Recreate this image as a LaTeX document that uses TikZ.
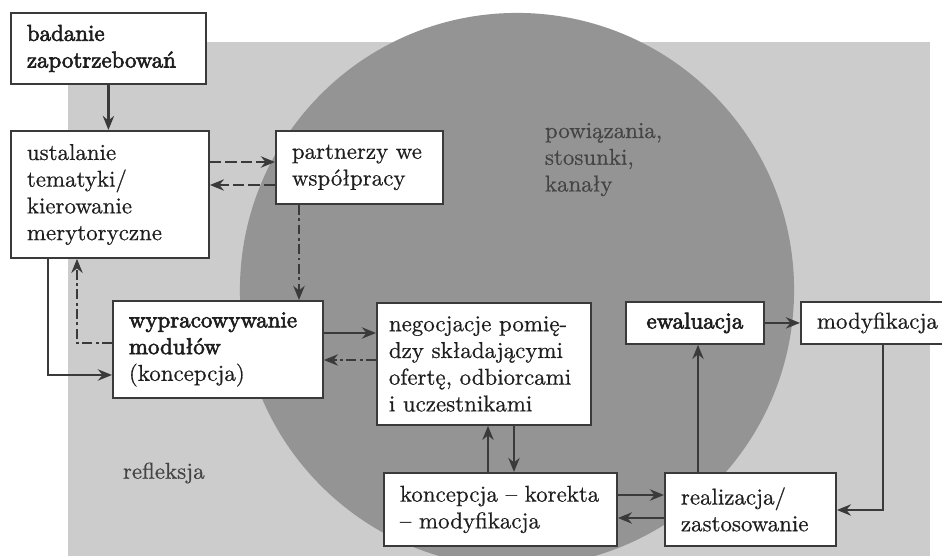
\documentclass[tikz,border=0pt]{standalone}
\usepackage{fontspec}
\setmainfont{lmroman10-regular.otf}[UprightFeatures={FakeBold=0.6}, BoldFont=lmroman10-regular.otf, BoldFeatures={FakeBold=2.8}]
\usetikzlibrary{arrows.meta,calc}

\definecolor{bgGray}{RGB}{204,204,204}
\definecolor{circGray}{RGB}{148,148,148}
\definecolor{lineGray}{RGB}{58,58,58}
\definecolor{txtGray}{RGB}{30,30,30}
\definecolor{labGray}{RGB}{68,68,68}

\begin{document}
\begin{tikzpicture}[x=0.025cm, y=-0.025cm,
    every node/.style={font=\fontsize{16.3}{19}\selectfont, text=txtGray},
    box/.style={draw=lineGray, fill=white, line width=1.3pt, anchor=north west, align=left, inner xsep=0.4cm, inner ysep=0pt},
    arr/.style={draw=lineGray, line width=1.7pt, -{Stealth[length=10pt,width=8pt]}},
    dashline/.style={dash pattern=on 8pt off 3pt},
    dashdotline/.style={dash pattern=on 7pt off 2.5pt on 2pt off 2.5pt}]

			% Background
			\useasboundingbox (0,0) rectangle (942,556);
			\clip (0,0) rectangle (942,556);
			\fill[bgGray] (68,42) rectangle (930,556);
			\fill[circGray] (517,290) circle (6.925cm);

			% Labels
			\node[text=labGray, anchor=north west, align=left] (links) at (540,118) {powiązania,\\stosunki,\\kanały};
			\node[text=labGray, anchor=west] (refleksja) at (118,473) {refleksja};

			% Nodes
			\node[box, text width=4.075cm, minimum width=4.875cm, minimum height=1.775cm] (badanie) at (10,12) {\textbf{badanie}\\\textbf{zapotrzebowań}};
			\node[box, text width=4.15cm, minimum width=4.95cm, minimum height=3.175cm] (ustalanie) at (10,130) {ustalanie\\tematyki/\\kierowanie\\merytoryczne};
			\node[box, text width=3.375cm, minimum width=4.175cm, minimum height=1.825cm] (partnerzy) at (275,130) {partnerzy we\\współpracy};
			\node[box, text width=4.45cm, minimum width=5.25cm, minimum height=2.425cm] (moduly) at (112,300) {\textbf{wypracowywanie}\\\textbf{modułów}\\(koncepcja)};
			\node[box, inner xsep=0.3cm, text width=4.75cm, minimum width=5.35cm, minimum height=3.05cm] (negocjacje) at (376,302) {negocjacje pomię-\\dzy składającymi\\ofertę, odbiorcami\\i uczestnikami};
			\node[box, text width=5.025cm, minimum width=5.825cm, minimum height=1.825cm] (koncepcja) at (383,472) {koncepcja – korekta\\– modyfikacja};
			\node[box, text width=3.475cm, minimum width=4.275cm, minimum height=1.825cm] (realizacja) at (664,472) {realizacja/\\zastosowanie};
			\node[box, minimum width=3.45cm, minimum height=1.05cm] (ewaluacja) at (625,301) {\textbf{ewaluacja}};
			\node[box, minimum width=3.5cm, minimum height=1.05cm] (modyfikacja) at (800,301) {modyfikacja};

			% Link points
			\coordinate (pa) at ($(partnerzy.north west)+(0,32)$);
			\coordinate (pb) at ($(partnerzy.north west)+(0,55)$);
			\coordinate (pc) at ($(partnerzy.south west)+(24,0)$);
			\coordinate (ua) at ($(ustalanie.south west)+(67,0)$);
			\coordinate (ub) at ($(ustalanie.south west)+(38,0)$);
			\coordinate (ma) at ($(moduly.north west)+(0,43)$);
			\coordinate (mb) at ($(moduly.north west)+(0,75)$);
			\coordinate (mc) at ($(moduly.north east)+(0,33)$);
			\coordinate (md) at ($(moduly.north east)+(0,60)$);
			\coordinate (na) at ($(negocjacje.south west)+(112,0)$);
			\coordinate (nb) at ($(negocjacje.south west)+(138,0)$);
			\coordinate (ka) at ($(koncepcja.north east)+(0,23)$);
			\coordinate (kb) at ($(koncepcja.north east)+(0,46)$);
			\coordinate (ra) at ($(realizacja.north west)+(34,0)$);
			\coordinate (rb) at ($(realizacja.north east)+(0,38)$);
			\coordinate (ya) at ($(modyfikacja.south west)+(83,0)$);

			% Links
			\draw[arr] (badanie.south) -- (badanie.south |- ustalanie.north);
			\draw[arr, dashline] (pa -| ustalanie.east) -- (pa);
			\draw[arr, dashline] (pb) -- (pb -| ustalanie.east);
			\draw[arr, dashdotline] (pc) -- (pc |- moduly.north);
			\draw[arr, dashdotline] (ma) -| (ua);
			\draw[arr] (ub) |- (mb);
			\draw[arr] (mc) -- (mc -| negocjacje.west);
			\draw[arr, dashdotline] (md -| negocjacje.west) -- (md);
			\draw[arr] (na |- koncepcja.north) -- (na);
			\draw[arr] (nb) -- (nb |- koncepcja.north);
			\draw[arr] (ka) -- (ka -| realizacja.west);
			\draw[arr] (kb -| realizacja.west) -- (kb);
			\draw[arr] (ra) -- (ra |- ewaluacja.south);
			\draw[arr] (ewaluacja) -- (modyfikacja);
			\draw[arr] (ya) |- (rb);
		\end{tikzpicture}
\end{document}
